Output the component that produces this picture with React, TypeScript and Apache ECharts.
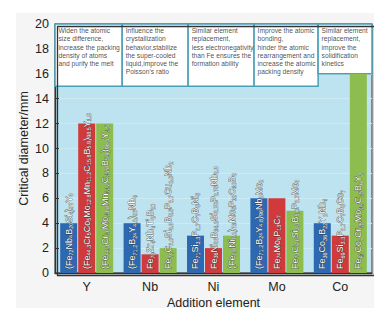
import React, { useEffect, useRef } from "react";
import * as echarts from "echarts";

const categories = ["Y", "Nb", "Ni", "Mo", "Co"];
const blueValues = [4, 4, 3, 6, 4];
const redValues = [12, 1.5, 2, 6, 3];
const greenValues = [12, 2, 3, 5, 16];
const blueAlloys = [
  "(Fe72Nb4B20Si4)97Y3",
  "(Fe71.2B24Y4.8)96Nb4",
  "Fe71Si3.3P8.7C7B5Ni5",
  "(Fe71.2B24Y4.8)96Nb2Mo2",
  "Fe36Co36B22Y2Nb4",
];
const redAlloys = [
  "(Fe44.3Cr5Co5Mo12.8Mn11.2C15.8B5.9)98.5Y1.5",
  "Fe70Zr4Nb4Ti2B20",
  "Fe36Ni36B14.2Si3.75P2.75Nb2.3",
  "Fe74Mo6P13C7",
  "Fe69Si3.3P8.7C7B5Co7",
];
const greenAlloys = [
  "(Fe44.3Cr10Mo13.8Mn11.2C15.8B5.9)98.5Y1.5",
  "Fe74C6.0Si3.3B5.5P8.7Cu0.5Nb2",
  "(Fe0.8Ni0.2)71Mo5P12C10B2",
  "Fe73C7.0Si3.3B5.0P8.7Mo3",
  "Fe41Co7Cr15Mo14C15B6Y2",
];
const effectNotes = [
  "Widen the atomic\nsize difference,\nincrease the packing\ndensity of atoms\nand purify the melt",
  "Influence the\ncrystallization\nbehavior,stabilize\nthe super-cooled\nliquid,improve the\nPoisson's ratio",
  "Similar element\nreplacement,\nless electronegativity\nthan Fe ensures the\nformation ability",
  "Improve the atomic\nbonding,\nhinder the atomic\nrearrangement and\nincrease the atomic\npacking density",
  "Similar element\nreplacement,\nimprove the\nsolidification\nkinetics",
];
const noteEdges = [0, 1.06, 2.1, 3.14, 4.15, 5];
const noteBottoms = [15, 15, 15, 15, 16];
const yMin = 0;
const yMax = 20;
const yInterval = 2;

const FONT = "Liberation Sans, Arial, sans-serif";

function toRich(f: string): string {
  return f
    .split(/(\d+(?:\.\d+)?)/)
    .filter((t) => t.length > 0)
    .map((t) => (/^\d/.test(t) ? `{s|${t}}` : `{m|${t}}`))
    .join("");
}

function barSeries(name: string, values: number[], alloys: string[], color: string) {
  return {
    name,
    type: "bar",
    data: values,
    barWidth: 17,
    barGap: "6%",
    itemStyle: { color },
    z: 3,
    label: {
      show: true,
      position: "insideBottom",
      rotate: 90,
      align: "left",
      verticalAlign: "middle",
      distance: 4,
      formatter: (p: any) => toRich(alloys[p.dataIndex]),
      rich: {
        m: {
          fontSize: 9,
          fontFamily: FONT,
          color: "#fff",
          textBorderColor: "rgba(50,50,50,0.8)",
          textBorderWidth: 0.9,
          lineHeight: 11,
          verticalAlign: "middle",
        },
        s: {
          fontSize: 5.5,
          fontFamily: FONT,
          color: "#fff",
          textBorderColor: "rgba(50,50,50,0.75)",
          textBorderWidth: 0.6,
          lineHeight: 6,
          verticalAlign: "bottom",
        },
      },
    },
  };
}

export default function App() {
  const ref = useRef<HTMLDivElement>(null);
  useEffect(() => {
    if (!ref.current) return;
    const chart = echarts.init(ref.current, null, { renderer: "svg" });
    const areaData = effectNotes.map((note, i) => [
      { xAxis: noteEdges[i], yAxis: yMax },
      { xAxis: noteEdges[i + 1], yAxis: noteBottoms[i] },
    ]);
    const noteAnchors = effectNotes.map((note, i) => [noteEdges[i], yMax, note]);
    chart.setOption({
      animation: false,
      textStyle: { fontFamily: FONT },
      graphic: [
        {
          type: "rect",
          left: 16,
          top: 13,
          shape: { width: 361, height: 295 },
          style: { fill: "#f5f5f5" },
          z: -10,
          silent: true,
        },
        {
          type: "rect",
          left: 55,
          top: 24,
          shape: { width: 317, height: 249 },
          style: { fill: "none", stroke: "#333", lineWidth: 1.3 },
          z: 100,
          silent: true,
        },
      ],
      grid: {
        left: 55,
        right: 10,
        top: 24,
        bottom: 45,
        show: true,
        backgroundColor: "#bde3f0",
        borderColor: "#333",
        borderWidth: 1,
      },
      xAxis: [
        {
          type: "category",
          data: categories,
          axisLine: { show: true, lineStyle: { color: "#333", width: 1.3 } },
          axisTick: { show: false },
          axisLabel: { fontSize: 12.5, color: "#222", margin: 7, fontFamily: FONT },
          name: "Addition element",
          nameLocation: "middle",
          nameGap: 23,
          nameMoveOverlap: false,
          nameTextStyle: { fontSize: 12.5, color: "#222", fontFamily: FONT },
        },
        { type: "value", min: 0, max: 5, show: false },
      ],
      yAxis: {
        type: "value",
        min: yMin,
        max: yMax,
        interval: yInterval,
        axisLine: { show: true, lineStyle: { color: "#333", width: 1.3 } },
        axisTick: { show: true, inside: true, length: 4, lineStyle: { color: "#333" } },
        axisLabel: { fontSize: 12.5, color: "#222", margin: 6, fontFamily: FONT },
        splitLine: { show: true, lineStyle: { color: "#cdebf5", width: 1 } },
        name: "Critical diameter/mm",
        nameLocation: "middle",
        nameGap: 25,
        nameMoveOverlap: false,
        nameTextStyle: { fontSize: 12.5, color: "#222", fontFamily: FONT },
      },
      series: [
        barSeries("A", blueValues, blueAlloys, "#2d68b2"),
        barSeries("B", redValues, redAlloys, "#d03a3b"),
        barSeries("C", greenValues, greenAlloys, "#8cbd4e"),
        {
          type: "line",
          xAxisIndex: 1,
          data: [],
          silent: true,
          z: 4,
          markArea: {
            silent: true,
            itemStyle: { color: "#ffffff", borderColor: "#4a9fb6", borderWidth: 1.5 },
            label: { show: false },
            data: areaData,
          },
        },
        {
          type: "scatter",
          xAxisIndex: 1,
          data: noteAnchors,
          symbol: "rect",
          symbolSize: 1,
          clip: false,
          itemStyle: { color: "rgba(0,0,0,0)" },
          silent: true,
          z: 6,
          label: {
            show: true,
            position: [4, 3],
            align: "left",
            verticalAlign: "top",
            formatter: (p: any) => p.data[2],
            fontSize: 6.7,
            lineHeight: 8.2,
            color: "#1a1a1a",
            fontFamily: FONT,
          },
        },
      ],
    });
    return () => chart.dispose();
  }, []);
  return <div ref={ref} style={{ width: 382, height: 318, margin: -8 }} />;
}
